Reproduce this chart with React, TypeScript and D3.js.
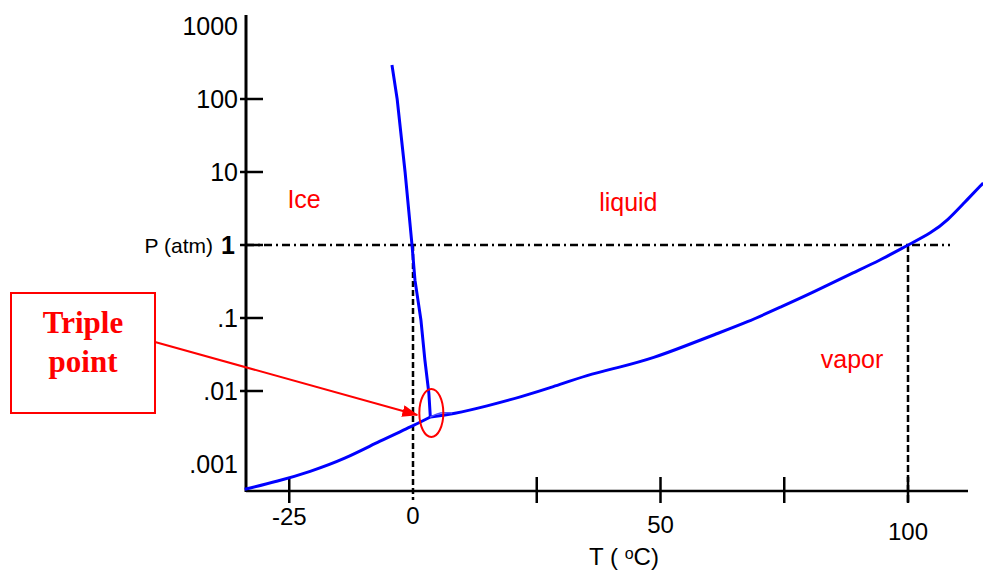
import React from 'react';
import * as d3 from 'd3';

// Phase diagram of water
const meltT = [-4.25, -3.2, -1.6, -0.2, 0.4, 1.6, 2.4, 3.2, 3.5];
const meltP = [292, 100, 10, 1, 0.33, 0.094, 0.0266, 0.0094, 0.0044];

const sublT = [-34, -27.3, -20.9, -13.8, -6.7, 0, 3.5];
const sublP = [0.00045, 0.00058, 0.00078, 0.00117, 0.00207, 0.00332, 0.0044];

const vapT = [3.5, 8.1, 15.0, 21.7, 28.3, 35.2, 41.9, 48.6, 55.5, 60.7, 67.6, 74.3, 81.0, 87.9, 94.5, 100, 104.7, 108.1, 111.3, 115.2];
const vapP = [0.0044, 0.00484, 0.00623, 0.00828, 0.01135, 0.01656, 0.0213, 0.0283, 0.0427, 0.0585, 0.0881, 0.1415, 0.227, 0.388, 0.623, 1.0, 1.46, 2.2, 3.76, 7.07];

// faint little hump drawn at the triple point
const humpT = [3.5, 5.5, 7.9];
const humpP = [0.0044, 0.00515, 0.005];

const yTickValues = [1000, 100, 10, 1, 0.1, 0.01, 0.001];
const yTickLabels = ['1000', '100', '10', '1', '.1', '.01', '.001'];
const yTickMarked = [false, true, true, true, true, true, false];

const xTickValues = [-25, 25, 50, 75, 100];
const xLabelValues = [-25, 0, 50, 100];
const xLabelTexts = ['-25', '0', '50', '100'];
const xLabelDrop = [34, 33, 42, 49]; // labels sit at uneven heights in the original

const phaseLabels = [
  { text: 'Ice', T: -22, P: 3.2 },
  { text: 'liquid', T: 43.5, P: 2.9 },
  { text: 'vapor', T: 88.7, P: 0.0207 },
];

const W = 983;
const H = 571;
const axisLeft = 246;
const axisBottom = 491;
const axisTop = 15;
const axisRight = 968;

const App = () => {
  const x = d3.scaleLinear().domain([0, 100]).range([413, 908]);
  const y = d3.scaleLog().domain([0.001, 1000]).range([464, 26]);

  const toPts = (ts: number[], ps: number[]) => ts.map((t, i) => [t, ps[i]] as [number, number]);

  const smooth = d3.line<[number, number]>()
    .x(d => x(d[0]))
    .y(d => y(d[1]))
    .curve(d3.curveBasis);
  const straight = d3.line<[number, number]>()
    .x(d => x(d[0]))
    .y(d => y(d[1]));

  const blue = '#0000ff';
  const red = '#ff0000';
  const sans = '"Liberation Sans", Arial, sans-serif';

  const x0 = x(0);
  const x100 = x(100);
  const y1 = y(1);

  return (
    <svg width={W} height={H} style={{ position: 'absolute', left: 0, top: 0, background: '#fff' }}>
      <defs>
        <marker id="arrowHead" viewBox="0 0 16 12" refX="15" refY="6" markerWidth="16" markerHeight="12"
          markerUnits="userSpaceOnUse" orient="auto">
          <path d="M0,0 L16,6 L0,12 Z" fill={red} />
        </marker>
      </defs>

      {/* reference lines at 1 atm, 0 and 100 C */}
      <line x1={axisLeft} x2={950} y1={y1} y2={y1} stroke="#000" strokeWidth={2.5} strokeDasharray="8,4,2,4" />
      <line x1={x0} x2={x0} y1={y1} y2={500} stroke="#000" strokeWidth={2.5} strokeDasharray="6,3" />
      <line x1={x100} x2={x100} y1={y1} y2={505} stroke="#000" strokeWidth={2.5} strokeDasharray="7,3" />

      {/* axes */}
      <line x1={axisLeft} x2={axisLeft} y1={axisTop} y2={axisBottom + 1} stroke="#000" strokeWidth={3} />
      <line x1={axisLeft} x2={axisRight} y1={axisBottom} y2={axisBottom} stroke="#000" strokeWidth={2.5} />

      {yTickValues.map((v, i) => (
        <g key={'y' + v}>
          {yTickMarked[i] && (
            <line x1={axisLeft - 6} x2={axisLeft + 17} y1={y(v)} y2={y(v)} stroke="#000" strokeWidth={2.5} />
          )}
          <text x={v === 1 ? 235 : 238} y={y(v)} dy="0.36em" textAnchor="end" fontFamily={sans}
            fontSize={25} fontWeight={v === 1 ? 'bold' : 'normal'} fill="#000">
            {yTickLabels[i]}
          </text>
        </g>
      ))}
      <text x={213} y={y1} dy="0.36em" textAnchor="end" fontFamily={sans} fontSize={21} fill="#000">P (atm)</text>

      {xTickValues.map(v => (
        <line key={'x' + v} x1={x(v)} x2={x(v)} y1={axisBottom - 14} y2={axisBottom + 12} stroke="#000" strokeWidth={2.5} />
      ))}
      {xLabelValues.map((v, i) => (
        <text key={'xl' + v} x={x(v)} y={axisBottom + xLabelDrop[i]} textAnchor="middle" fontFamily={sans}
          fontSize={24} fill="#000">
          {xLabelTexts[i]}
        </text>
      ))}
      <text x={624} y={565} textAnchor="middle" fontFamily={sans} fontSize={24} fill="#000">
        T ( <tspan fontSize={16} dy={-6}>o</tspan><tspan dy={6}>C)</tspan>
      </text>

      {/* phase boundaries */}
      <path d={straight(toPts(meltT, meltP)) || ''} fill="none" stroke={blue} strokeWidth={3} />
      <path d={smooth(toPts(sublT, sublP)) || ''} fill="none" stroke={blue} strokeWidth={3} />
      <path d={smooth(toPts(vapT, vapP)) || ''} fill="none" stroke={blue} strokeWidth={3} />
      <path d={smooth(toPts(humpT, humpP)) || ''} fill="none" stroke="#5050ff" strokeWidth={1.5} />

      {phaseLabels.map(d => (
        <text key={d.text} x={x(d.T)} y={y(d.P)} textAnchor="middle" fontFamily={sans} fontSize={25} fill={red}>
          {d.text}
        </text>
      ))}

      {/* triple point callout */}
      <rect x={11} y={293} width={144} height={120} fill="#fff" stroke={red} strokeWidth={2} />
      <text x={83} y={333} textAnchor="middle" fontFamily='"Liberation Serif", "Times New Roman", serif'
        fontSize={31} fontWeight="bold" fill={red}>Triple</text>
      <text x={83} y={372} textAnchor="middle" fontFamily='"Liberation Serif", "Times New Roman", serif'
        fontSize={31} fontWeight="bold" fill={red}>point</text>
      <line x1={155} y1={342} x2={x(3.5) - 13} y2={y(0.0044) - 2} stroke={red} strokeWidth={2}
        markerEnd="url(#arrowHead)" />
      <ellipse cx={x(3.5) + 1} cy={y(0.0044) - 4} rx={12} ry={24} fill="none" stroke={red} strokeWidth={2} />
    </svg>
  );
};

export default App;
